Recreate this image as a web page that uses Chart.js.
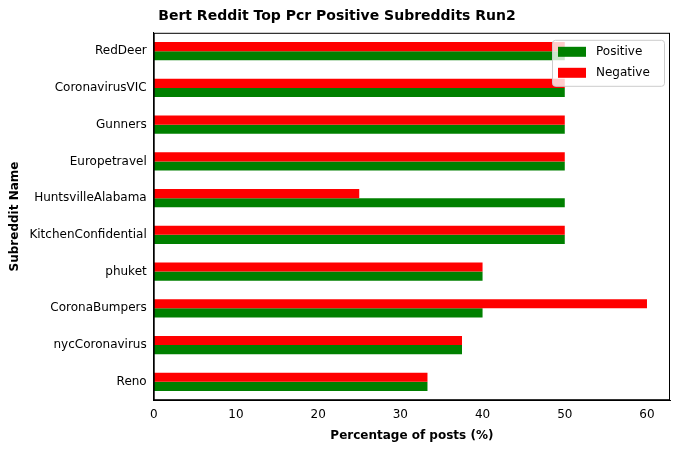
<!DOCTYPE html>
<html>
<head>
<meta charset="utf-8">
<script src="https://cdn.jsdelivr.net/npm/chart.js@4/dist/chart.umd.min.js"></script>
<style>
  html, body { margin: 0; padding: 0; background: #fff; }
  #wrap { width: 681px; height: 453px; }
</style>
</head>
<body>
<div id="wrap"><canvas id="chart"></canvas></div>
<script>
const subreddits = ["RedDeer", "CoronavirusVIC", "Gunners", "Europetravel", "HuntsvilleAlabama",
  "KitchenConfidential", "phuket", "CoronaBumpers", "nycCoronavirus", "Reno"];
const positive = [50, 50, 50, 50, 50, 50, 40, 40, 37.5, 33.3];
const negative = [50, 50, 50, 50, 25, 50, 40, 60, 37.5, 33.3];
const xTicks = [0, 10, 20, 30, 40, 50, 60];

Chart.defaults.font.family = "DejaVu Sans";
Chart.defaults.color = "#000";

// frame round the plot and a matplotlib-style legend inside it
const framePlugin = {
  id: "frame",
  afterDraw(chart) {
    const { ctx, chartArea: a } = chart;
    ctx.save();
    ctx.strokeStyle = "#000";
    ctx.lineWidth = 1;
    ctx.strokeRect(a.left + 0.5, a.top + 0.5, a.right - a.left - 1, a.bottom - a.top - 1);

    const items = [["Positive", "green"], ["Negative", "red"]];
    const w = 112, h = 46, x = a.right - w - 6, y = a.top + 7;
    ctx.fillStyle = "rgba(255,255,255,0.8)";
    ctx.strokeStyle = "#ccc";
    ctx.beginPath();
    ctx.roundRect(x + 0.5, y + 0.5, w, h, 3);
    ctx.fill();
    ctx.stroke();
    ctx.font = "12px DejaVu Sans";
    ctx.textBaseline = "middle";
    items.forEach(([label, col], i) => {
      const cy = y + 12 + i * 21;
      ctx.fillStyle = col;
      ctx.fillRect(x + 6, cy - 5, 28, 10);
      ctx.fillStyle = "#000";
      ctx.fillText(label, x + 44, cy);
    });
    ctx.restore();
  }
};

new Chart(document.getElementById("chart"), {
  type: "bar",
  data: {
    labels: subreddits,
    datasets: [
      { label: "Negative", data: negative, backgroundColor: "red", categoryPercentage: 0.5, barPercentage: 1 },
      { label: "Positive", data: positive, backgroundColor: "green", categoryPercentage: 0.5, barPercentage: 1 }
    ]
  },
  options: {
    indexAxis: "y",
    responsive: true,
    maintainAspectRatio: false,
    animation: false,
    layout: { padding: { top: 2, right: 11, bottom: 6, left: 4 } },
    plugins: {
      legend: { display: false },
      tooltip: { enabled: false },
      title: {
        display: true,
        text: "Bert Reddit Top Pcr Positive Subreddits Run2",
        font: { size: 14, weight: "bold" },
        padding: { top: 6, bottom: 8 }
      }
    },
    scales: {
      x: {
        min: 0, max: 62.8,
        afterBuildTicks(axis) { axis.ticks = xTicks.map(v => ({ value: v })); },
        grid: { display: false, drawTicks: true, tickLength: 4, tickColor: "#000" },
        border: { display: true, color: "#000" },
        ticks: { font: { size: 12 }, padding: 3 },
        title: { display: true, text: "Percentage of posts (%)", font: { size: 12, weight: "bold" }, padding: { top: 4 } }
      },
      y: {
        grid: { display: false, drawTicks: true, tickLength: 4, tickColor: "#000", offset: true },
        border: { display: true, color: "#000" },
        ticks: { font: { size: 12 }, padding: 3 },
        title: { display: true, text: "Subreddit Name", font: { size: 12, weight: "bold" } }
      }
    }
  },
  plugins: [framePlugin]
});
</script>
</body>
</html>
